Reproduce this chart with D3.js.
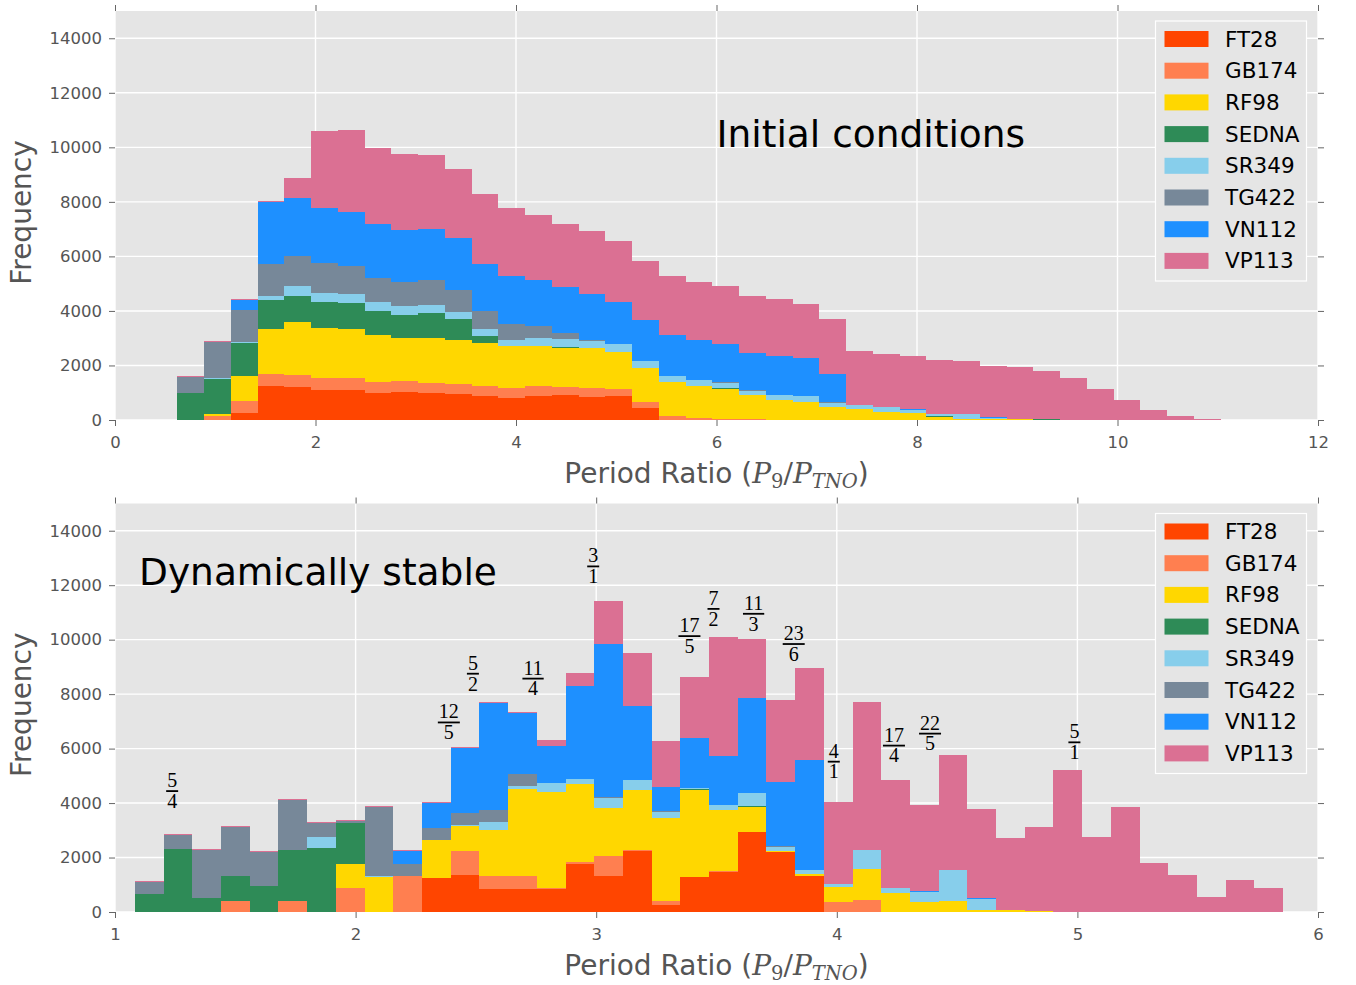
<!DOCTYPE html>
<html>
<head>
<meta charset="utf-8">
<script src="https://cdn.jsdelivr.net/npm/d3@7"></script>
<style>
  html, body { margin: 0; padding: 0; background: #ffffff; }
  svg { display: block; }
</style>
</head>
<body>
<script>
// ---- Series (stack order, bottom to top) ----
const seriesNames  = ["FT28", "GB174", "RF98", "SEDNA", "SR349", "TG422", "VN112", "VP113"];
const seriesColors = ["#FF4500", "#FF7F50", "#FFD700", "#2E8B57", "#87CEEB", "#778899", "#1E90FF", "#DB7093"];

// ---- Initial conditions: counts per period-ratio bin ----
const icBinStart = 0.6215;
const icBinWidth = 0.26683;
const icFT28  = [0, 0, 245, 1245, 1205, 1100, 1100, 990, 1025, 990, 950, 880, 805, 865, 900, 830, 865, 425, 0, 0, 0, 0, 0, 0, 0, 0, 0, 0, 0, 0, 0, 0, 0, 0, 0, 0, 0, 0, 0];
const icGB174 = [0, 135, 440, 425, 430, 440, 440, 400, 400, 350, 365, 365, 365, 365, 295, 330, 255, 220, 135, 75, 35, 25, 0, 0, 0, 0, 0, 0, 0, 0, 0, 0, 0, 0, 0, 0, 0, 0, 0];
const icRF98  = [0, 75, 915, 1685, 1950, 1850, 1780, 1710, 1600, 1685, 1610, 1575, 1535, 1500, 1475, 1475, 1390, 1280, 1245, 1170, 1100, 880, 730, 660, 465, 390, 290, 255, 110, 50, 35, 35, 0, 0, 0, 0, 0, 0, 0];
const icSEDNA = [980, 1280, 1220, 1060, 975, 950, 965, 915, 840, 915, 795, 255, 0, 0, 25, 0, 0, 0, 0, 0, 25, 0, 0, 0, 0, 0, 0, 0, 25, 0, 0, 0, 25, 0, 0, 0, 0, 0, 0];
const icSR349 = [0, 35, 35, 120, 340, 330, 330, 330, 305, 295, 255, 280, 245, 290, 270, 245, 270, 255, 220, 205, 195, 185, 170, 205, 180, 145, 170, 135, 100, 160, 35, 0, 0, 0, 0, 0, 0, 0, 0];
const icTG422 = [600, 1330, 1195, 1195, 1120, 1100, 1050, 880, 900, 890, 805, 660, 560, 415, 210, 60, 0, 0, 0, 0, 25, 25, 0, 0, 25, 0, 0, 0, 0, 0, 0, 0, 0, 0, 0, 0, 0, 0, 0];
const icVN112 = [0, 0, 365, 2255, 2120, 2010, 1975, 1950, 1915, 1890, 1880, 1720, 1780, 1705, 1685, 1695, 1535, 1475, 1500, 1500, 1425, 1330, 1465, 1400, 1035, 0, 0, 25, 0, 0, 25, 0, 0, 0, 0, 0, 0, 0, 0];
const icVP113 = [25, 25, 35, 50, 730, 2820, 3000, 2805, 2770, 2710, 2550, 2560, 2490, 2380, 2340, 2305, 2255, 2180, 2195, 2120, 2120, 2120, 2085, 2000, 2015, 2010, 1975, 1950, 1950, 1940, 1900, 1925, 1755, 1525, 1120, 720, 355, 135, 35];

// ---- Dynamically stable: counts per period-ratio bin ----
const dsBinStart = 1.0831;
const dsBinWidth = 0.11929;
const dsFT28  = [0, 0, 0, 0, 0, 0, 0, 0, 0, 0, 1245, 1355, 855, 840, 855, 1755, 1315, 2245, 255, 1280, 1475, 2940, 2205, 1330, 0, 0, 0, 0, 0, 0, 0, 0, 0, 0, 0, 0, 0, 0, 0, 0];
const dsGB174 = [0, 0, 0, 400, 0, 400, 0, 880, 0, 1315, 0, 880, 465, 475, 35, 75, 730, 25, 145, 0, 35, 0, 0, 0, 365, 450, 0, 0, 0, 0, 0, 0, 0, 0, 0, 0, 0, 0, 0, 0];
const dsRF98  = [0, 0, 0, 0, 0, 0, 0, 880, 1295, 0, 1390, 925, 1685, 3185, 3510, 2865, 1770, 2210, 3050, 3195, 2230, 925, 25, 60, 560, 1120, 695, 365, 400, 85, 75, 35, 0, 0, 0, 0, 0, 0, 0, 0];
const dsSEDNA = [660, 2305, 525, 915, 950, 1865, 2340, 1510, 0, 0, 0, 0, 0, 0, 0, 0, 0, 0, 0, 25, 0, 25, 0, 0, 0, 0, 0, 0, 0, 0, 0, 0, 0, 0, 0, 0, 0, 0, 0, 0];
const dsSR349 = [0, 0, 0, 0, 0, 0, 405, 0, 35, 0, 0, 25, 290, 110, 355, 205, 365, 380, 220, 50, 185, 465, 145, 145, 100, 695, 195, 380, 1135, 405, 0, 0, 0, 0, 0, 0, 0, 0, 0, 0];
const dsTG422 = [440, 525, 1755, 1795, 1270, 1865, 525, 75, 2525, 465, 440, 440, 450, 440, 0, 0, 25, 0, 25, 0, 0, 0, 35, 0, 0, 0, 0, 0, 0, 0, 0, 0, 0, 0, 0, 0, 0, 0, 0, 0];
const dsVN112 = [0, 0, 0, 0, 0, 0, 0, 0, 0, 450, 915, 2390, 3915, 2270, 1355, 3405, 5635, 2720, 880, 1830, 1795, 3510, 2380, 4060, 0, 0, 0, 25, 0, 35, 0, 0, 0, 0, 0, 0, 0, 0, 0, 0];
const dsVP113 = [35, 35, 25, 35, 25, 35, 25, 25, 25, 35, 35, 35, 35, 35, 220, 475, 1575, 1940, 1720, 2255, 4380, 2160, 3000, 3365, 3000, 5450, 3975, 3155, 4245, 3245, 2635, 3075, 5230, 2745, 3840, 1795, 1355, 550, 1170, 880];

// ---- Resonance labels on the lower panel (numerator, denominator, label height) ----
const resNum    = [5, 12, 5, 11, 3, 17, 7, 11, 23, 4, 17, 22, 5];
const resDen    = [4, 5, 2, 4, 1, 5, 2, 3, 6, 1, 4, 5, 1];
const resHeight = [4440, 6960, 8750, 8570, 12690, 10130, 11130, 10950, 9840, 5520, 6110, 6550, 6230];

// ---- Axis ticks ----
const yTicks    = [0, 2000, 4000, 6000, 8000, 10000, 12000, 14000];
const icXTicks  = [0, 2, 4, 6, 8, 10, 12];
const dsXTicks  = [1, 2, 3, 4, 5, 6];

const W = 1356, H = 985;
const TICK_COLOR = "#666666";
const LABEL_COLOR = "#555555";

const svg = d3.select("body").append("svg")
  .attr("width", W).attr("height", H)
  .attr("xmlns", "http://www.w3.org/2000/svg");

function buildRows(layers) {
  const n = layers[0].length;
  return d3.range(n).map(i => {
    const row = { bin: i };
    seriesNames.forEach((name, k) => { row[name] = layers[k][i]; });
    return row;
  });
}

function drawPanel(cfg) {
  const x = d3.scaleLinear().domain(cfg.xDomain).range([cfg.left, cfg.right]);
  const y = d3.scaleLinear().domain([0, 15000]).range([cfg.bottom, cfg.top]);
  const g = svg.append("g");

  // plot background
  g.append("rect")
    .attr("x", cfg.left).attr("y", cfg.top)
    .attr("width", cfg.right - cfg.left).attr("height", cfg.bottom - cfg.top)
    .attr("fill", "#E5E5E5");

  // white grid
  g.append("g").selectAll("line").data(cfg.xTicks).join("line")
    .attr("x1", d => x(d)).attr("x2", d => x(d))
    .attr("y1", cfg.top).attr("y2", cfg.bottom)
    .attr("stroke", "#ffffff").attr("stroke-width", 1.4);
  g.append("g").selectAll("line").data(yTicks).join("line")
    .attr("x1", cfg.left).attr("x2", cfg.right)
    .attr("y1", d => y(d)).attr("y2", d => y(d))
    .attr("stroke", "#ffffff").attr("stroke-width", 1.4);

  // stacked histogram
  const rows = buildRows(cfg.layers);
  const stacked = d3.stack().keys(seriesNames)(rows);
  const binLeft = i => x(cfg.binStart + i * cfg.binWidth);
  const binRight = i => x(cfg.binStart + (i + 1) * cfg.binWidth);

  g.append("g").selectAll("g").data(stacked).join("g")
    .attr("fill", (d, k) => seriesColors[k])
    .selectAll("rect")
    .data(d => d.filter(p => p[1] - p[0] > 0))
    .join("rect")
    .attr("shape-rendering", "crispEdges")
    .attr("x", p => binLeft(p.data.bin))
    .attr("width", p => binRight(p.data.bin) - binLeft(p.data.bin))
    .attr("y", p => y(p[1]))
    .attr("height", p => Math.max(1, y(p[0]) - y(p[1])));

  // axes: ticks on all four sides, labels on left and bottom
  const ax = d3.axisBottom(x).tickValues(cfg.xTicks).tickSize(6).tickPadding(10).tickFormat(d3.format("d"));
  const axTop = d3.axisTop(x).tickValues(cfg.xTicks).tickSize(6).tickFormat("");
  const ay = d3.axisLeft(y).tickValues(yTicks).tickSize(6).tickPadding(7).tickFormat(d3.format("d"));
  const ayRight = d3.axisRight(y).tickValues(yTicks).tickSize(6).tickFormat("");

  function styleAxis(sel) {
    sel.select(".domain").remove();
    sel.selectAll(".tick line").attr("stroke", TICK_COLOR).attr("stroke-width", 1);
    sel.selectAll(".tick text")
      .attr("fill", LABEL_COLOR)
      .attr("font-family", "DejaVu Sans, sans-serif")
      .attr("font-size", "16.5px");
  }
  g.append("g").attr("transform", `translate(0,${cfg.bottom})`).call(ax).call(styleAxis);
  g.append("g").attr("transform", `translate(0,${cfg.top})`).call(axTop).call(styleAxis);
  g.append("g").attr("transform", `translate(${cfg.left},0)`).call(ay).call(styleAxis);
  g.append("g").attr("transform", `translate(${cfg.right},0)`).call(ayRight).call(styleAxis);

  // y label
  g.append("text")
    .attr("transform", `translate(30.5,${(cfg.top + cfg.bottom) / 2 - 3}) rotate(-90)`)
    .attr("text-anchor", "middle")
    .attr("fill", LABEL_COLOR)
    .attr("font-family", "DejaVu Sans, sans-serif")
    .attr("font-size", "28px")
    .text("Frequency");

  // x label with math part
  const xl = g.append("text")
    .attr("x", (cfg.left + cfg.right) / 2)
    .attr("y", cfg.bottom + 63)
    .attr("text-anchor", "middle")
    .attr("fill", LABEL_COLOR)
    .attr("font-family", "DejaVu Sans, sans-serif")
    .attr("font-size", "28px");
  xl.append("tspan").text("Period Ratio (");
  xl.append("tspan").attr("font-family", "DejaVu Serif, serif").attr("font-style", "italic").text("P");
  xl.append("tspan").attr("font-family", "DejaVu Serif, serif").attr("font-size", "19.5px").attr("dy", 5).text("9");
  xl.append("tspan").attr("font-family", "DejaVu Serif, serif").attr("dy", -5).text("/");
  xl.append("tspan").attr("font-family", "DejaVu Serif, serif").attr("font-style", "italic").text("P");
  xl.append("tspan").attr("font-family", "DejaVu Serif, serif").attr("font-style", "italic").attr("font-size", "19.5px").attr("dy", 5).text("TNO");
  xl.append("tspan").attr("dy", -5).text(")");

  // panel caption
  g.append("text")
    .attr("x", x(cfg.captionX)).attr("y", y(cfg.captionY))
    .attr("fill", "#000000")
    .attr("font-family", "DejaVu Sans, sans-serif")
    .attr("font-size", "37.5px")
    .text(cfg.caption);

  // legend
  const lg = g.append("g").attr("transform", `translate(${cfg.right - 162.5},${cfg.top + 10})`);
  lg.append("rect")
    .attr("x", 0).attr("y", 0).attr("width", 151).attr("height", 260)
    .attr("fill", "#E5E5E5").attr("stroke", "#ffffff").attr("stroke-width", 1.2);
  seriesNames.forEach((name, k) => {
    lg.append("rect")
      .attr("x", 9).attr("y", 10 + k * 31.7)
      .attr("width", 44).attr("height", 16)
      .attr("fill", seriesColors[k]);
    lg.append("text")
      .attr("x", 69.5).attr("y", 25.5 + k * 31.7)
      .attr("fill", "#000000")
      .attr("font-family", "DejaVu Sans, sans-serif")
      .attr("font-size", "21.5px")
      .text(name);
  });

  return { x, y, g };
}

drawPanel({
  left: 115, right: 1318, top: 11, bottom: 420,
  xDomain: [0, 12], xTicks: icXTicks,
  binStart: icBinStart, binWidth: icBinWidth,
  layers: [icFT28, icGB174, icRF98, icSEDNA, icSR349, icTG422, icVN112, icVP113],
  caption: "Initial conditions", captionX: 6, captionY: 10000
});

const lower = drawPanel({
  left: 115, right: 1318, top: 503.5, bottom: 912,
  xDomain: [1, 6], xTicks: dsXTicks,
  binStart: dsBinStart, binWidth: dsBinWidth,
  layers: [dsFT28, dsGB174, dsRF98, dsSEDNA, dsSR349, dsTG422, dsVN112, dsVP113],
  caption: "Dynamically stable", captionX: 1.1, captionY: 12000
});

// resonance fractions
resNum.forEach((num, i) => {
  const den = resDen[i];
  const fg = lower.g.append("g")
    .attr("transform", `translate(${lower.x(num / den) - 3},${lower.y(resHeight[i])})`);
  const tNum = fg.append("text")
    .attr("x", 0).attr("y", -4)
    .attr("text-anchor", "middle")
    .attr("font-family", "Liberation Serif, serif")
    .attr("font-size", "20px")
    .attr("fill", "#000000")
    .text(String(num));
  const tDen = fg.append("text")
    .attr("x", 0).attr("y", 16.8)
    .attr("text-anchor", "middle")
    .attr("font-family", "Liberation Serif, serif")
    .attr("font-size", "20px")
    .attr("fill", "#000000")
    .text(String(den));
  const w = Math.max(tNum.node().getComputedTextLength(), tDen.node().getComputedTextLength()) + 2;
  fg.append("line")
    .attr("x1", -w / 2).attr("x2", w / 2)
    .attr("y1", 0).attr("y2", 0)
    .attr("stroke", "#000000").attr("stroke-width", 1.8);
});
</script>
</body>
</html>
